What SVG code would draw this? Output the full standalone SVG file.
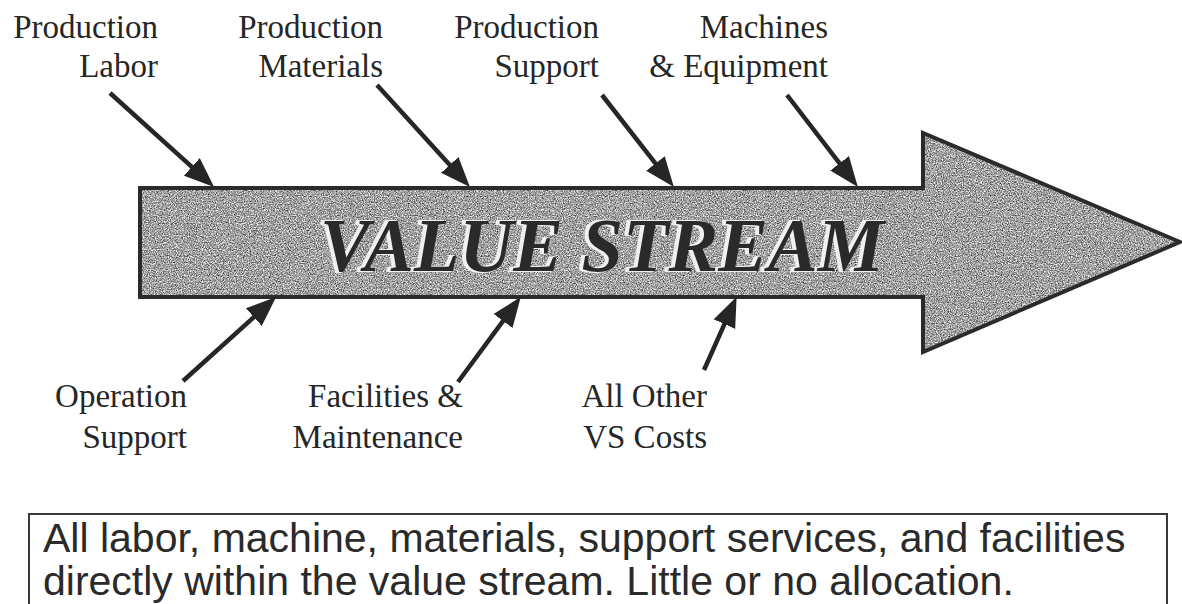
<svg xmlns="http://www.w3.org/2000/svg" width="1182" height="604" viewBox="0 0 1182 604">
  <style>
    .label { font-family: "Liberation Serif", "Times New Roman", serif; font-size: 33px; fill: #262626; text-anchor: end; }
    .feed { fill: none; stroke: #262626; stroke-width: 4.5; stroke-linecap: butt; marker-end: url(#head); }
    .note { font-family: "Liberation Sans", Arial, sans-serif; font-size: 41px; fill: #2a2a2a; }
    .title { font-family: "Liberation Serif", "Times New Roman", serif; font-size: 76px; font-weight: bold; font-style: italic; fill: #2a2a2a; }
  </style>
  <defs>
    <!-- grainy mid-grey fill for the big arrow -->
    <filter id="grain" x="0" y="0" width="100%" height="100%" color-interpolation-filters="sRGB">
      <feTurbulence type="fractalNoise" baseFrequency="0.85" numOctaves="2" seed="7" result="noise"/>
      <feColorMatrix in="noise" type="matrix" result="grey"
        values="1.3 0 0 0 -0.02  1.3 0 0 0 -0.02  1.3 0 0 0 -0.02  0 0 0 0 1"/>
      <feComposite in="grey" in2="SourceGraphic" operator="in"/>
    </filter>
    <!-- light halo offset to the left, giving the embossed title look -->
    <filter id="emboss" x="-5%" y="-20%" width="110%" height="140%" color-interpolation-filters="sRGB">
      <feMorphology in="SourceAlpha" operator="dilate" radius="1" result="fat"/>
      <feOffset in="fat" dx="-3" dy="0" result="shift"/>
      <feFlood flood-color="#f0f0f0"/>
      <feComposite in2="shift" operator="in" result="halo"/>
      <feMerge>
        <feMergeNode in="halo"/>
        <feMergeNode in="SourceGraphic"/>
      </feMerge>
    </filter>
    <marker id="head" markerUnits="userSpaceOnUse" markerWidth="30" markerHeight="24"
            viewBox="0 0 28 22" refX="8" refY="11" orient="auto">
      <path d="M0,0 L28,11 L0,22 Z" fill="#262626"/>
    </marker>
  </defs>

  <rect width="1182" height="604" fill="#ffffff"/>

  <!-- main value stream arrow -->
  <g id="value-stream">
    <path d="M140,188 H923 V133 L1180,242 L923,352 V297 H140 Z" fill="#000" filter="url(#grain)"/>
    <path d="M140,188 H923 V133 L1180,242 L923,352 V297 H140 Z" fill="none" stroke="#2b2b2b" stroke-width="4" stroke-linejoin="miter"/>
    <text class="title" x="320" y="271" textLength="564" lengthAdjust="spacingAndGlyphs" filter="url(#emboss)">VALUE STREAM</text>
  </g>

  <!-- cost inputs above the stream -->
  <g id="production-labor">
    <text class="label" x="158" y="38">Production</text>
    <text class="label" x="158" y="77">Labor</text>
  </g>
  <g id="production-materials">
    <text class="label" x="383" y="38">Production</text>
    <text class="label" x="383" y="77">Materials</text>
  </g>
  <g id="production-support">
    <text class="label" x="599" y="38">Production</text>
    <text class="label" x="599" y="77">Support</text>
  </g>
  <g id="machines-equipment">
    <text class="label" x="828" y="38">Machines</text>
    <text class="label" x="828" y="77">&amp; Equipment</text>
  </g>

  <!-- cost inputs below the stream -->
  <g id="operation-support">
    <text class="label" x="187" y="407">Operation</text>
    <text class="label" x="187" y="448">Support</text>
  </g>
  <g id="facilities-maintenance">
    <text class="label" x="463" y="407">Facilities &amp;</text>
    <text class="label" x="463" y="448">Maintenance</text>
  </g>
  <g id="all-other-costs">
    <text class="label" x="707" y="407">All Other</text>
    <text class="label" x="707" y="448">VS Costs</text>
  </g>

  <!-- connectors: each input points into the stream -->
  <g id="connectors">
    <path class="feed" d="M110,93 L198.2,172.6"/>
    <path class="feed" d="M377,85 L455.5,171.2"/>
    <path class="feed" d="M602,95 L660.7,170.2"/>
    <path class="feed" d="M787,95 L844.8,170.1"/>
    <path class="feed" d="M183,381 L260.2,311.4"/>
    <path class="feed" d="M458,382 L508.1,314.1"/>
    <path class="feed" d="M704,370 L727.9,316.3"/>
  </g>

  <!-- explanatory note box -->
  <g id="note">
    <path d="M29,620 V514 H1167 V620" fill="none" stroke="#3a3a3a" stroke-width="2"/>
    <text class="note" x="43" y="552">All labor, machine, materials, support services, and facilities</text>
    <text class="note" x="43" y="595">directly within the value stream. Little or no allocation.</text>
  </g>
</svg>
